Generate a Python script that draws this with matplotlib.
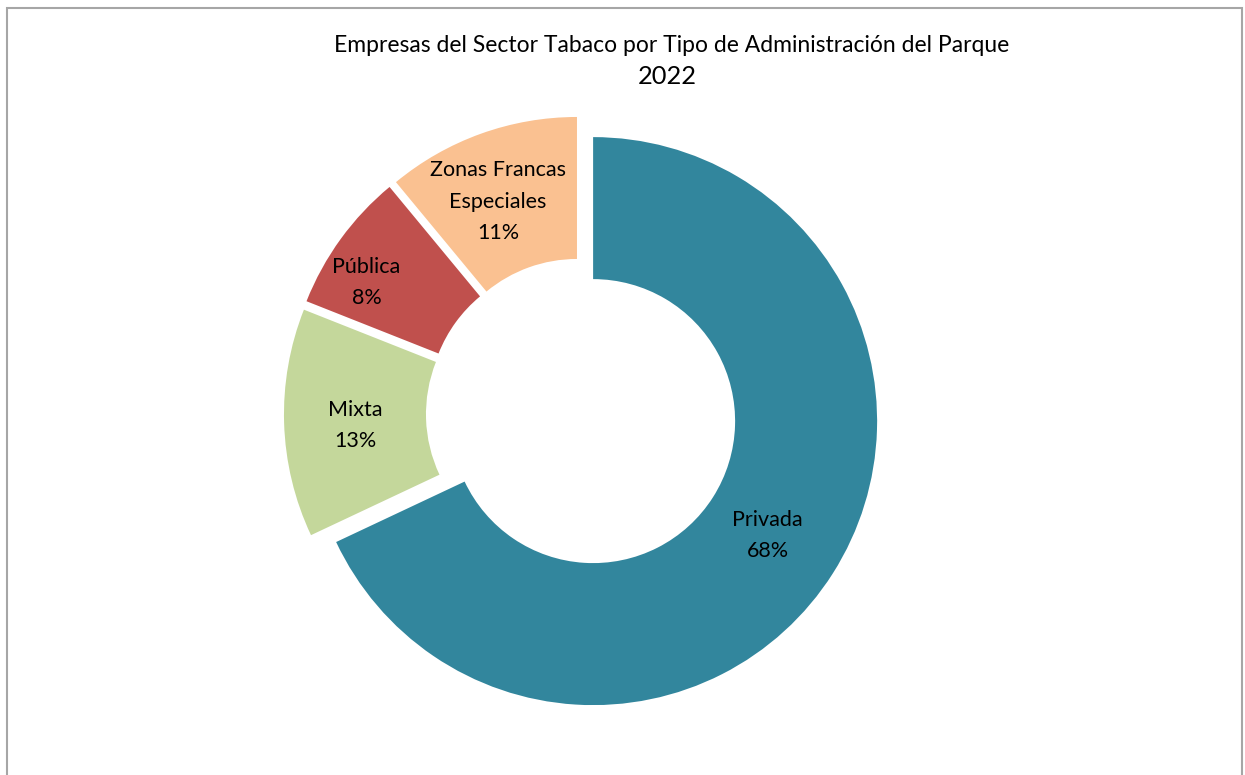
import matplotlib
matplotlib.use("Agg")
import matplotlib.pyplot as plt
import numpy as np
from matplotlib.patches import Rectangle

plt.rcParams['font.family'] = ['Lato', 'DejaVu Sans']

categories = ["Privada", "Mixta", "Pública", "Zonas Francas\nEspeciales"]
values = [68, 13, 8, 11]
colors = ["#32869D", "#C4D79B", "#C0504D", "#FAC191"]
label_dist = [0.735, 0.75, 0.84, 0.755]
label_rot = [-0.8, 1.3, 4.8, 1.8]
title = "Empresas del Sector Tabaco por Tipo de Administración del Parque"
subtitle = "2022"

W, H = 1245, 775
fig = plt.figure(figsize=(W / 100, H / 100), dpi=100)

# frame
fig.patches.append(Rectangle((6.5 / W, -0.01), (1242 - 6.5) / W, 1.01 - 7.5 / H,
                             transform=fig.transFigure, fill=False,
                             edgecolor="#A6A6A6", linewidth=1.5))

R = 284
cx, cy = 581.6, 413.8
lim = 1.2
side = 2 * lim * R
ax = fig.add_axes([(cx - side / 2) / W, (H - cy - side / 2) / H, side / W, side / H])

wedges, _ = ax.pie(values, colors=colors, startangle=90, counterclock=False,
                   explode=[0.048] * len(values),
                   wedgeprops=dict(width=0.5, edgecolor='none'))
ax.set_xlim(-lim, lim)
ax.set_ylim(-lim, lim)
ax.set_aspect('equal')
ax.axis('off')

for w, lab, v, ld, rot in zip(wedges, categories, values, label_dist, label_rot):
    ang = np.deg2rad((w.theta1 + w.theta2) / 2 + rot)
    x = w.center[0] + ld * w.r * np.cos(ang)
    y = w.center[1] + ld * w.r * np.sin(ang)
    ax.text(x, y, f"{lab}\n{v}%", ha='center', va='center', fontsize=15.5,
            color='black', linespacing=1.7)

fig.text(672 / W, 1 - 46 / H, title, ha='center', va='center', fontsize=16.5, color='black')
fig.text(667 / W, 1 - 77 / H, subtitle, ha='center', va='center', fontsize=18.3, color='black')

fig.savefig("out.png", dpi=100)
